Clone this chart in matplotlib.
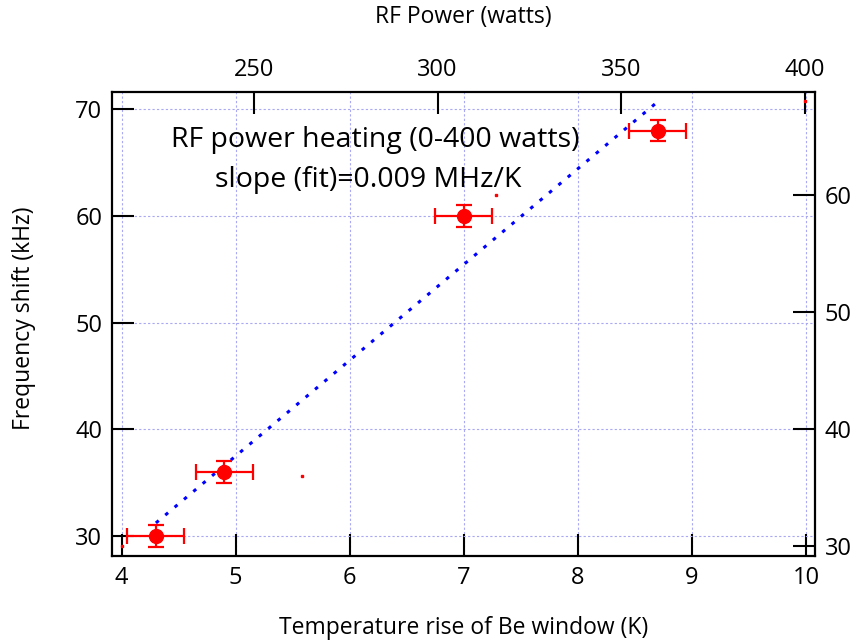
import numpy as np
import matplotlib.pyplot as plt

plt.rcParams['font.family'] = ['Open Sans', 'DejaVu Sans']

# Datos: aumento de temperatura vs corrimiento de frecuencia
temperatura = [4.3, 4.9, 7.0, 8.7]
corrimiento = [30, 36, 60, 68]
errTemp = [0.25, 0.25, 0.25, 0.25]
errCorr = [1.0, 1.0, 1.0, 1.0]

# Datos en ejes secundarios (potencia RF vs corrimiento)
potencia = [214, 263, 316, 400]
corrimiento2 = [30, 36, 60, 68]

xTicks = [4, 5, 6, 7, 8, 9, 10]
yTicks = [30, 40, 50, 60, 70]
x2Ticks = [250, 300, 350, 400]
y2Ticks = [30, 40, 50, 60]

# Ajuste lineal
pendiente, intercepto = np.polyfit(temperatura, corrimiento, 1)
xAjuste = np.array([temperatura[0], temperatura[-1]])
yAjuste = pendiente * xAjuste + intercepto

fig = plt.figure(figsize=(8.56, 6.41), dpi=100)
rect = [112/856, 1 - 556/641, (815 - 112)/856, (556 - 91.7)/641]
ax = fig.add_axes(rect)

ax.plot(xAjuste, yAjuste, color='#0000ff', linewidth=2.2,
        linestyle=(0, (1.2, 2.8)), dash_capstyle='butt')
ax.errorbar(temperatura, corrimiento, xerr=errTemp, yerr=errCorr, fmt='o',
            color='#ff0000', markersize=10, elinewidth=1.6, capsize=6,
            capthick=1.6, zorder=5)

ax.set_xlim(3.915, 10.08)
ax.set_ylim(28.13, 71.65)
ax.set_xticks(xTicks)
ax.set_yticks(yTicks)
ax.grid(True, color='#a8a8f4', linestyle=(0, (2, 2)), linewidth=0.8)
ax.tick_params(direction='in', length=16, width=1.5, labelsize=17, pad=7)
for s in ax.spines.values():
    s.set_linewidth(1.6)
ax.set_xlabel('Temperature rise of Be window (K)', fontsize=16.5)
ax.set_ylabel('Frequency shift (kHz)', fontsize=16.5)
# Posición de las etiquetas (coordenadas del eje)
ax.xaxis.set_label_coords(0.5, (556 - 628) / 464.3)
ax.xaxis.label.set_va('center')
ax.yaxis.set_label_coords((24 - 112) / 703, (556 - 318) / 464.3)
ax.yaxis.label.set_ha('center')
ax.yaxis.label.set_va('center')

ax.text(0.374, 0.895, 'RF power heating (0-400 watts)', transform=ax.transAxes,
        ha='center', va='center', fontsize=20.5)
ax.text(0.364, 0.81, 'slope (fit)=0.009 MHz/K', transform=ax.transAxes,
        ha='center', va='center', fontsize=20.5)

# Ejes secundarios
ax2 = fig.add_axes(rect, frameon=False)
ax2.plot(potencia, corrimiento2, 's', color='#ff0000', markersize=1.5)
ax2.set_xlim(211.3, 402.8)
ax2.set_ylim(29.15, 68.83)
ax2.set_xticks(x2Ticks)
ax2.set_yticks(y2Ticks)
ax2.xaxis.tick_top()
ax2.yaxis.tick_right()
ax2.xaxis.set_label_position('top')
ax2.tick_params(direction='in', length=16, width=1.5, labelsize=17, pad=7)
ax2.set_xlabel('RF Power (watts)', fontsize=16.5)
ax2.xaxis.set_label_coords(0.5, (556 - 17) / 464.3)
ax2.xaxis.label.set_va('center')

fig.savefig('out.png', dpi=100)
